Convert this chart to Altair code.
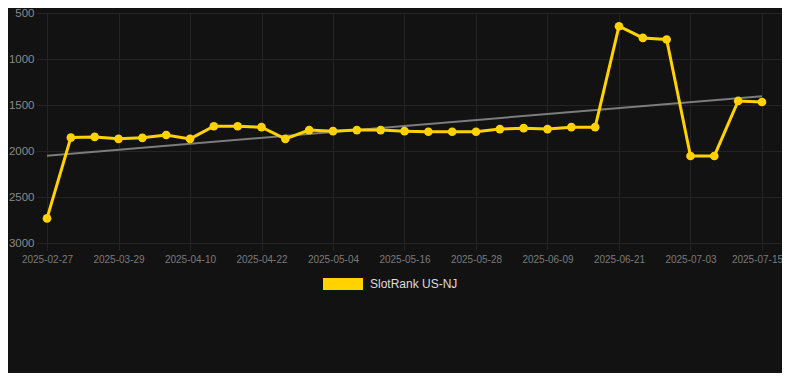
import altair as alt
import pandas as pd

dates = [
    "2025-02-27", "2025-03-21", "2025-03-25", "2025-03-29", "2025-04-02",
    "2025-04-06", "2025-04-10", "2025-04-14", "2025-04-18", "2025-04-22",
    "2025-04-26", "2025-04-30", "2025-05-04", "2025-05-08", "2025-05-12",
    "2025-05-16", "2025-05-20", "2025-05-24", "2025-05-28", "2025-06-01",
    "2025-06-05", "2025-06-09", "2025-06-13", "2025-06-17", "2025-06-21",
    "2025-06-25", "2025-06-29", "2025-07-03", "2025-07-07", "2025-07-11",
    "2025-07-15",
]
ranks = [
    2733, 1854, 1847, 1868, 1857, 1826, 1868, 1731, 1731, 1741,
    1868, 1773, 1784, 1773, 1773, 1784, 1791, 1791, 1791, 1762,
    1752, 1762, 1741, 1741, 644, 771, 788, 2054, 2054, 1456,
    1467,
]
series_name = "SlotRank US-NJ"
trend_idx = [0, 30]
trend_vals = [2051, 1404]
y_ticks = [500, 1000, 1500, 2000, 2500, 3000]
x_tick_idx = list(range(0, 31, 3))

df = pd.DataFrame({"idx": list(range(len(dates))), "date": dates, "rank": ranks,
                   "series": [series_name] * len(dates)})
trend_df = pd.DataFrame({"idx": trend_idx, "rank": trend_vals})

label_expr = "[" + ",".join(f"'{d}'" for d in dates) + "][datum.value]"

x_scale = alt.Scale(domain=[-0.42, 30.84], nice=False, zero=False)
y_scale = alt.Scale(domain=[500, 3000], reverse=True, nice=False, zero=False)

x_axis = alt.Axis(values=x_tick_idx, labelExpr=label_expr, title=None,
                  grid=True, gridColor="#242424", domain=False,
                  ticks=True, tickColor="#242424", tickSize=7,
                  labelPadding=4, labelColor="#7a7a7a", labelFontSize=10,
                  labelFont="Liberation Sans", labelAngle=0,
                  labelOffset={"condition": {"test": "datum.value == 30",
                                             "value": -5},
                               "value": 0})
y_axis = alt.Axis(values=y_ticks, format="d", title=None, grid=True,
                  gridColor="#242424", domain=False, ticks=False,
                  labelPadding=3, labelColor="#8a8a8a", labelFontSize=11.5,
                  labelFont="Liberation Sans")

trend = alt.Chart(trend_df).mark_line(color="#7c7c7c", strokeWidth=2).encode(
    x=alt.X("idx:Q", scale=x_scale, axis=x_axis),
    y=alt.Y("rank:Q", scale=y_scale, axis=y_axis),
)

line = alt.Chart(df).mark_line(
    strokeWidth=3,
    point=alt.OverlayMarkDef(filled=True, size=75, opacity=1),
).encode(
    x=alt.X("idx:Q", scale=x_scale, axis=x_axis),
    y=alt.Y("rank:Q", scale=y_scale, axis=y_axis),
    color=alt.Color("series:N",
                    scale=alt.Scale(domain=[series_name], range=["#FFD200"]),
                    legend=alt.Legend(
                        title=None, orient="none", legendX=286, legendY=251,
                        symbolType="M-1,-0.3L1,-0.3L1,0.3L-1,0.3Z",
                        symbolSize=1600, symbolStrokeWidth=0,
                        symbolFillColor="#FFD200", symbolOpacity=1,
                        labelColor="#dddddd", labelFontSize=12,
                        labelFont="Liberation Sans", labelOffset=7,
                        padding=0)),
)

chart = alt.layer(trend, line).properties(
    width=745, height=230,
    autosize=alt.AutoSizeParams(type="none"),
    padding={"left": 29, "top": 5, "right": 0, "bottom": 130},
    background="#121212",
).configure_view(stroke=None)

chart.save("out.html", embed_options={"renderer": "svg", "actions": False})
